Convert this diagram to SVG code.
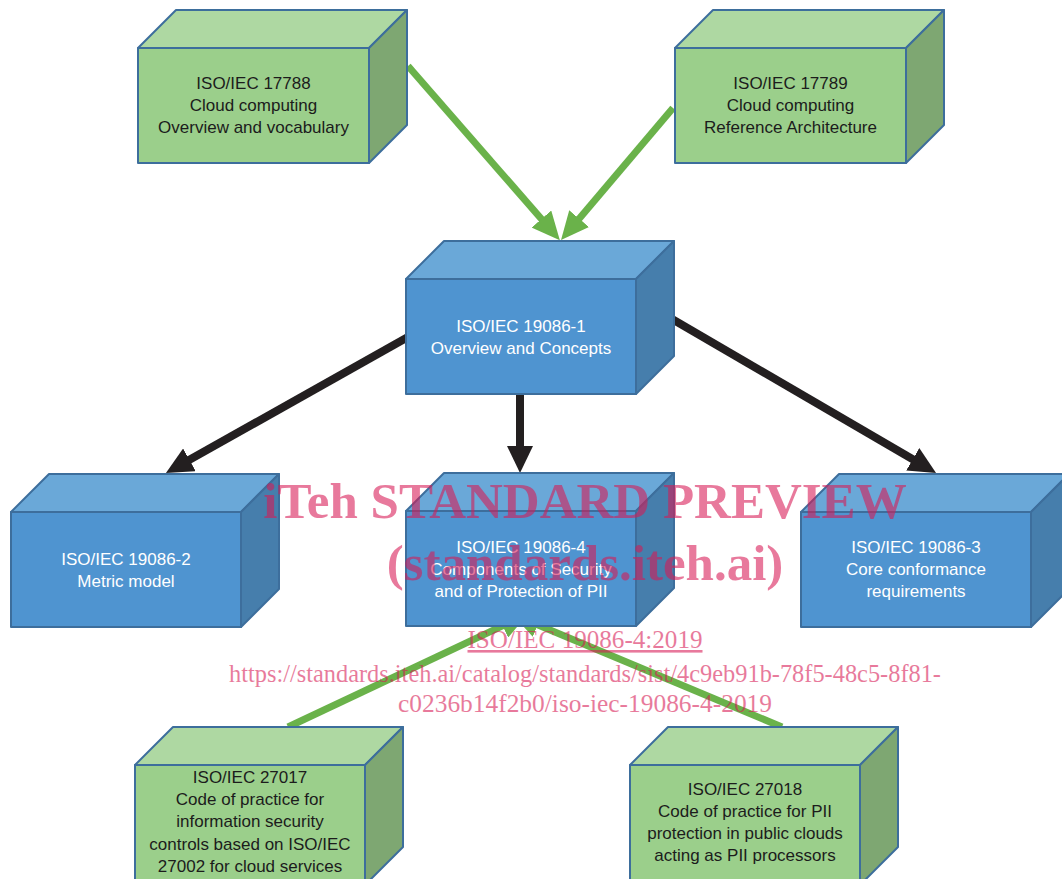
<svg xmlns="http://www.w3.org/2000/svg" width="1062" height="879" viewBox="0 0 1062 879">
<defs>
<style>
.g .front{fill:#9BCF8B}.g .top{fill:#AED8A2}.g .side{fill:#7EA772}
.b .front{fill:#4F94D0}.b .top{fill:#6AA8D8}.b .side{fill:#467EAC}
.front,.top,.side{stroke:#3D6E9C;stroke-width:2;stroke-linejoin:round}
.t{font-family:"Liberation Sans",Arial,sans-serif;font-size:17px;text-anchor:middle}
.g .t{fill:#1c1c1c}.b .t{fill:#ffffff}
.cg{stroke:#6AB24A;stroke-width:7;fill:none}
.ck{stroke:#231F20;stroke-width:8;fill:none}
.wm{font-family:"Liberation Serif","Times New Roman",serif;fill:#D81A55;opacity:0.58;text-anchor:middle}
</style>
<marker id="ag" viewBox="0 -13 28 26" markerWidth="28" markerHeight="26" refX="1" refY="0" orient="auto" markerUnits="userSpaceOnUse"><path d="M0,-13 L28,0 L0,13 z" fill="#6AB24A"/></marker>
<marker id="ak" viewBox="0 -13 27 26" markerWidth="27" markerHeight="26" refX="1" refY="0" orient="auto" markerUnits="userSpaceOnUse"><path d="M0,-13 L27,0 L0,13 z" fill="#231F20"/></marker>
</defs>
<rect width="1062" height="879" fill="#ffffff"/>
<g id="connectors">
<line class="cg" x1="408" y1="66" x2="542.1" y2="219.8" marker-end="url(#ag)"/>
<line class="cg" x1="673" y1="108" x2="578.5" y2="219.4" marker-end="url(#ag)"/>
<line class="ck" x1="408" y1="337" x2="188.6" y2="460.3" marker-end="url(#ak)"/>
<line class="ck" x1="520" y1="394" x2="520" y2="447" marker-end="url(#ak)"/>
<line class="ck" x1="672" y1="319" x2="913.6" y2="459.8" marker-end="url(#ak)"/>
<line class="cg" x1="288" y1="727" x2="503.5" y2="625.4" marker-end="url(#ag)"/>
<line class="cg" x1="782" y1="727" x2="536.9" y2="624.4" marker-end="url(#ag)"/>
</g>
<g id="n17788" class="g">
<polygon class="top" points="138,48 176,10 407,10 369,48"/>
<polygon class="side" points="369,48 407,10 407,125 369,163"/>
<rect class="front" x="138" y="48" width="231" height="115"/>
<text class="t" x="253.5" y="89">ISO/IEC 17788</text>
<text class="t" x="253.5" y="111">Cloud computing</text>
<text class="t" x="253.5" y="133">Overview and vocabulary</text>
</g>
<g id="n17789" class="g">
<polygon class="top" points="675,48 713,10 944,10 906,48"/>
<polygon class="side" points="906,48 944,10 944,125 906,163"/>
<rect class="front" x="675" y="48" width="231" height="115"/>
<text class="t" x="790.5" y="89">ISO/IEC 17789</text>
<text class="t" x="790.5" y="111">Cloud computing</text>
<text class="t" x="790.5" y="133">Reference Architecture</text>
</g>
<g id="n19086-1" class="b">
<polygon class="top" points="406,279 444,241 674,241 636,279"/>
<polygon class="side" points="636,279 674,241 674,356 636,394"/>
<rect class="front" x="406" y="279" width="230" height="115"/>
<text class="t" x="521" y="332">ISO/IEC 19086-1</text>
<text class="t" x="521" y="354">Overview and Concepts</text>
</g>
<g id="n19086-2" class="b">
<polygon class="top" points="11,512 49,474 279,474 241,512"/>
<polygon class="side" points="241,512 279,474 279,589 241,627"/>
<rect class="front" x="11" y="512" width="230" height="115"/>
<text class="t" x="126" y="565">ISO/IEC 19086-2</text>
<text class="t" x="126" y="587">Metric model</text>
</g>
<g id="n19086-4" class="b">
<polygon class="top" points="406,511 444,473 674,473 636,511"/>
<polygon class="side" points="636,511 674,473 674,588 636,626"/>
<rect class="front" x="406" y="511" width="230" height="115"/>
<text class="t" x="521" y="553">ISO/IEC 19086-4</text>
<text class="t" x="521" y="575">Components of Security</text>
<text class="t" x="521" y="597">and of Protection of PII</text>
</g>
<g id="n19086-3" class="b">
<polygon class="top" points="801,512 839,474 1069,474 1031,512"/>
<polygon class="side" points="1031,512 1069,474 1069,589 1031,627"/>
<rect class="front" x="801" y="512" width="230" height="115"/>
<text class="t" x="916" y="553">ISO/IEC 19086-3</text>
<text class="t" x="916" y="575">Core conformance</text>
<text class="t" x="916" y="597">requirements</text>
</g>
<g id="n27017" class="g">
<polygon class="top" points="135,765 173,727 403,727 365,765"/>
<polygon class="side" points="365,765 403,727 403,847 365,885"/>
<rect class="front" x="135" y="765" width="230" height="120"/>
<text class="t" x="250" y="783">ISO/IEC 27017</text>
<text class="t" x="250" y="805">Code of practice for</text>
<text class="t" x="250" y="827">information security</text>
<text class="t" x="250" y="850">controls based on ISO/IEC</text>
<text class="t" x="250" y="872">27002 for cloud services</text>
</g>
<g id="n27018" class="g">
<polygon class="top" points="630,765 668,727 898,727 860,765"/>
<polygon class="side" points="860,765 898,727 898,847 860,885"/>
<rect class="front" x="630" y="765" width="230" height="120"/>
<text class="t" x="745" y="795">ISO/IEC 27018</text>
<text class="t" x="745" y="817">Code of practice for PII</text>
<text class="t" x="745" y="839">protection in public clouds</text>
<text class="t" x="745" y="861">acting as PII processors</text>
</g>
<g id="watermark">
<text class="wm" x="585" y="518" font-size="51" font-weight="bold">iTeh STANDARD PREVIEW</text>
<text class="wm" x="585" y="580" font-size="51" font-weight="bold">(standards.iteh.ai)</text>
<text class="wm" x="585" y="648" font-size="26" textLength="235" lengthAdjust="spacingAndGlyphs" text-decoration="underline">ISO/IEC 19086-4:2019</text>
<text class="wm" x="585" y="682" font-size="26" textLength="712" lengthAdjust="spacingAndGlyphs">https://standards.iteh.ai/catalog/standards/sist/4c9eb91b-78f5-48c5-8f81-</text>
<text class="wm" x="585" y="712" font-size="26" textLength="374" lengthAdjust="spacingAndGlyphs">c0236b14f2b0/iso-iec-19086-4-2019</text>
</g>
</svg>
